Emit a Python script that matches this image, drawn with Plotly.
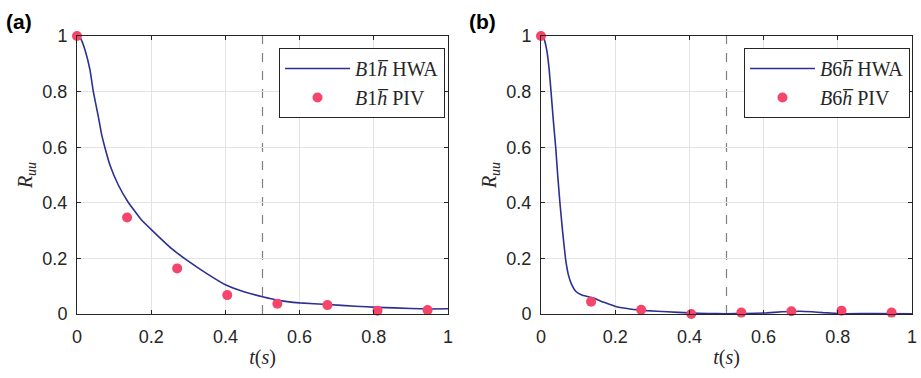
import plotly.graph_objects as go

# ---- data ----
t_hwa_a = [0, 0.01, 0.0216, 0.035, 0.044, 0.0575, 0.066, 0.075, 0.089, 0.111, 0.138, 0.174, 0.203, 0.255, 0.3, 0.35, 0.4, 0.45, 0.5, 0.54, 0.6, 0.677, 0.75, 0.81, 0.9, 0.95, 1.0]
r_hwa_a = [1, 0.99, 0.95, 0.878, 0.8, 0.71, 0.648, 0.6, 0.535, 0.465, 0.402, 0.338, 0.3, 0.235, 0.19, 0.145, 0.105, 0.08, 0.062, 0.05, 0.04, 0.034, 0.028, 0.024, 0.02, 0.018, 0.019]
t_piv = [0, 0.135, 0.27, 0.405, 0.54, 0.675, 0.81, 0.945]
r_piv_a = [1, 0.347, 0.164, 0.068, 0.037, 0.032, 0.012, 0.014]

t_hwa_b = [0, 0.008, 0.0154, 0.022, 0.027, 0.033, 0.0396, 0.045, 0.051, 0.058, 0.066, 0.074, 0.083, 0.095, 0.11, 0.125, 0.14, 0.17, 0.204, 0.24, 0.285, 0.34, 0.4, 0.45, 0.5, 0.55, 0.608, 0.65, 0.698, 0.73, 0.76, 0.824, 0.9, 1.0]
r_hwa_b = [1, 0.99, 0.95, 0.88, 0.8, 0.7, 0.6, 0.5, 0.4, 0.3, 0.2, 0.14, 0.105, 0.08, 0.068, 0.063, 0.058, 0.042, 0.026, 0.018, 0.012, 0.008, 0.004, 0.002, 0.001, 0.002, 0.004, 0.008, 0.01, 0.008, 0.005, 0.001, 0.002, 0.001]
r_piv_b = [1, 0.044, 0.015, 0.0, 0.005, 0.01, 0.012, 0.005]

t_dashed = 0.5
names_a = ["<i>B</i>1<i>h̅</i> HWA", "<i>B</i>1<i>h̅</i> PIV"]
names_b = ["<i>B</i>6<i>h̅</i> HWA", "<i>B</i>6<i>h̅</i> PIV"]
tick_vals = [0, 0.2, 0.4, 0.6, 0.8, 1]
tick_text = ["0", "0.2", "0.4", "0.6", "0.8", "1"]

LINE = "#2c2f93"
DOT = "#f5456a"
SERIF = "Liberation Serif, Times New Roman, serif"
SANS = "Liberation Sans, Arial, Helvetica, sans-serif"

fig = go.Figure()

fig.add_trace(go.Scatter(x=t_hwa_a, y=r_hwa_a, mode="lines", name=names_a[0],
                         line=dict(color=LINE, width=1.6, shape="spline", smoothing=0.3),
                         xaxis="x", yaxis="y", legend="legend", cliponaxis=False))
fig.add_trace(go.Scatter(x=t_piv, y=r_piv_a, mode="markers", name=names_a[1],
                         marker=dict(color=DOT, size=10),
                         xaxis="x", yaxis="y", legend="legend", cliponaxis=False))
fig.add_trace(go.Scatter(x=t_hwa_b, y=r_hwa_b, mode="lines", name=names_b[0],
                         line=dict(color=LINE, width=1.6, shape="spline", smoothing=0.3),
                         xaxis="x2", yaxis="y2", legend="legend2", cliponaxis=False))
fig.add_trace(go.Scatter(x=t_piv, y=r_piv_b, mode="markers", name=names_b[1],
                         marker=dict(color=DOT, size=10),
                         xaxis="x2", yaxis="y2", legend="legend2", cliponaxis=False))

W, H = 921, 378
ydom = [(H - 314) / H, (H - 36) / H]
xdom_a = [77 / W, 448 / W]
xdom_b = [541 / W, 912 / W]

axis_common = dict(range=[0, 1], tickvals=tick_vals, ticktext=tick_text,
                   showline=True, linecolor="#262626", linewidth=1, mirror="ticks",
                   ticks="inside", ticklen=4, tickcolor="#262626",
                   showgrid=True, gridcolor="#e3e3e3", gridwidth=1, zeroline=False,
                   automargin=False,
                   tickfont=dict(family=SANS, size=18, color="#262626"))

title_font = dict(family=SERIF, size=20, color="#262626")
legend_common = dict(y=(H - 48) / H, xanchor="right", yanchor="top",
                     bgcolor="white", bordercolor="#262626", borderwidth=1,
                     font=dict(family=SERIF, size=20, color="#262626"),
                     itemwidth=65, tracegroupgap=0)

fig.update_layout(
    width=W, height=H,
    margin=dict(l=0, r=0, t=0, b=0),
    paper_bgcolor="white", plot_bgcolor="white",
    xaxis=dict(domain=xdom_a, anchor="y", ticklabelstandoff=6,
               title=dict(text="<i>t</i>(<i>s</i>)", font=title_font, standoff=4),
               **axis_common),
    yaxis=dict(domain=ydom, anchor="x", ticklabelstandoff=5,
               title=dict(text="<i>R</i><sub><i>uu</i></sub>", font=title_font, standoff=4),
               **axis_common),
    xaxis2=dict(domain=xdom_b, anchor="y2", ticklabelstandoff=6,
                title=dict(text="<i>t</i>(<i>s</i>)", font=title_font, standoff=4),
                **axis_common),
    yaxis2=dict(domain=ydom, anchor="x2", ticklabelstandoff=5,
                title=dict(text="<i>R</i><sub><i>uu</i></sub>", font=title_font, standoff=4),
                **axis_common),
    legend=dict(x=445 / W, **legend_common),
    legend2=dict(x=910 / W, **legend_common),
    showlegend=True,
)

for xr, yr in (("x", "y domain"), ("x2", "y2 domain")):
    fig.add_shape(type="line", xref=xr, yref=yr, x0=t_dashed, x1=t_dashed, y0=0, y1=1,
                  line=dict(color="#7f7f7f", width=1.2, dash="dash"), layer="below")

fig.add_annotation(text="<b>(a)</b>", x=4 / W, y=(H - 21) / H, xref="paper", yref="paper",
                   xanchor="left", yanchor="middle", showarrow=False,
                   font=dict(family=SANS, size=21, color="black"))
fig.add_annotation(text="<b>(b)</b>", x=467 / W, y=(H - 21) / H, xref="paper", yref="paper",
                   xanchor="left", yanchor="middle", showarrow=False,
                   font=dict(family=SANS, size=21, color="black"))

fig.write_html("out.html")
